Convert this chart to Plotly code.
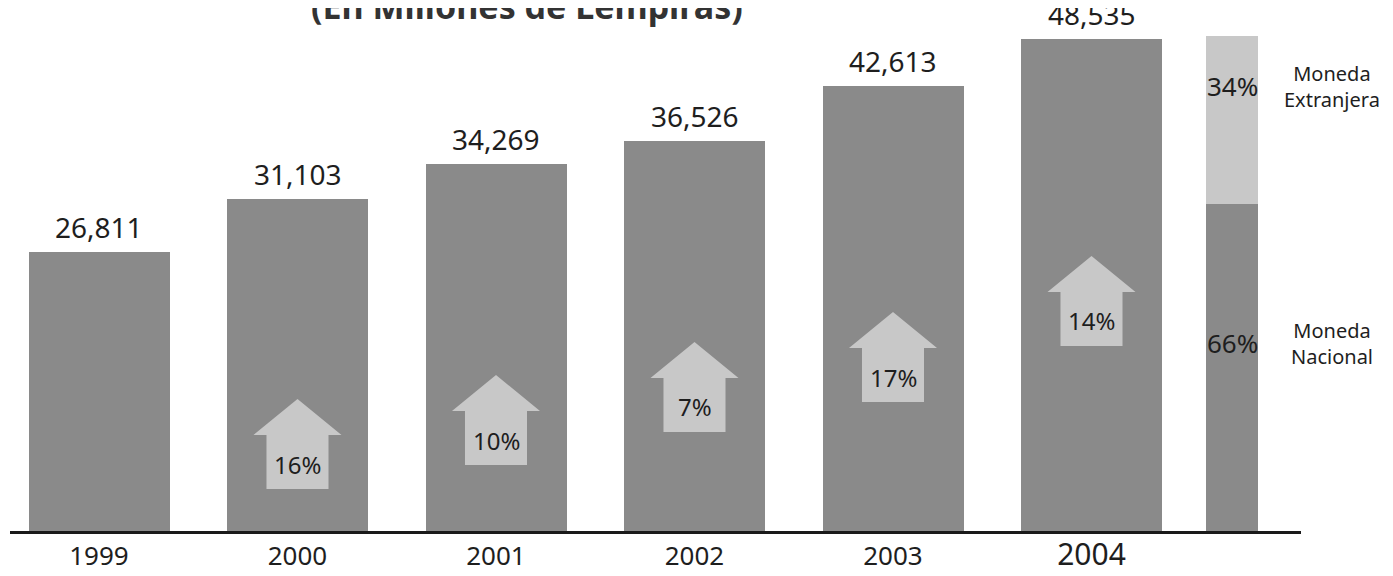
import numpy as np
import plotly.graph_objects as go

# ---------------- data ----------------
years = ["1999", "2000", "2001", "2002", "2003", "2004"]
saldo = [26811, 31103, 34269, 36526, 42613, 48535]
growth_pct = [None, 16, 10, 7, 17, 14]
comp_labels = ["Moneda<br>Nacional", "Moneda<br>Extranjera"]
comp_pct = [66, 34]
title_text = "(En Millones de Lempiras)"

# ---------------- layout constants (screen pixels; page body has an 8px margin) ----------------
OFF = 8
W, H = 1393 - OFF, 576 - OFF
PL, PR, PT, PB = 10, 1301, 36, 531          # plot area on screen
ML, MR, MT = PL - OFF, W - (PR - OFF), PT - OFF
MB = H - (PB - OFF)
PW, PH = PR - PL, PB - PT
FONT = "Noto Sans"
DARK = "#8a8a8a"
LIGHT = "#c8c8c8"
TXT = "#1e1e1e"
arrow_tip_px = [None, 399, 375, 342, 312, 256]  # arrow placement (screen px)
ARROW_H, HEAD_H, HEAD_HW, SHAFT_HW = 90, 36, 44, 31
SLOT = 198.5
X0 = -(99 - PL) / SLOT
X1 = X0 + PW / SLOT


def py2paper(py):
    return (PB - py) / PH


def px2paper(px):
    return (px - PL) / PW


xs = list(range(len(years)))
fig = go.Figure()
fig.add_trace(go.Bar(x=xs, y=saldo, width=141 / SLOT, marker_color=DARK,
                     marker_line_width=0, hoverinfo="x+y", showlegend=False))

comp_colors = [DARK, LIGHT]
for lab, v, c in zip(comp_labels, comp_pct, comp_colors):
    fig.add_trace(go.Bar(x=[0], y=[v], width=1, marker_color=c, marker_line_width=0,
                         xaxis="x2", yaxis="y2", showlegend=False, name=lab.replace("<br>", " ")))

annotations = []
for i, v in enumerate(saldo):
    annotations.append(dict(x=i, y=np.log10(v), xref="x", yref="y", text=f"{v:,}",
                            showarrow=False, xanchor="center", yanchor="bottom", yshift=4,
                            font=dict(family=FONT, size=28, color=TXT)))

shapes = []
for i, g in enumerate(growth_pct):
    if g is None:
        continue
    tip = arrow_tip_px[i]
    hb = tip + HEAD_H
    bot = tip + ARROW_H
    hw = HEAD_HW / SLOT
    sw = SHAFT_HW / SLOT
    pts = [(i, tip), (i + hw, hb), (i + sw, hb), (i + sw, bot), (i - sw, bot), (i - sw, hb), (i - hw, hb)]
    path = "M " + " L ".join(f"{x:.4f},{py2paper(y):.4f}" for x, y in pts) + " Z"
    shapes.append(dict(type="path", path=path, xref="x", yref="paper",
                       fillcolor=LIGHT, line=dict(width=0), layer="above"))
    annotations.append(dict(x=i, y=py2paper(tip + 65), xref="x", yref="paper", text=f"{g}%",
                            showarrow=False, xanchor="center", yanchor="middle",
                            font=dict(family=FONT, size=24, color=TXT)))

comp_text_px = [343, 86]
for lab, v, py in zip(comp_labels, comp_pct, comp_text_px):
    annotations.append(dict(x=0, y=py2paper(py), xref="x2", yref="paper", text=f"{v}%",
                            showarrow=False, xanchor="center", yanchor="middle",
                            font=dict(family=FONT, size=26, color=TXT)))
    annotations.append(dict(x=px2paper(1332), y=py2paper(py), xref="paper", yref="paper",
                            text=lab, showarrow=False, align="center",
                            xanchor="center", yanchor="middle",
                            font=dict(family=FONT, size=20, color=TXT)))

annotations.append(dict(x=px2paper(527), y=py2paper(31), xref="paper", yref="paper",
                        text=f"<b>{title_text}</b>", showarrow=False,
                        xanchor="center", yanchor="bottom",
                        font=dict(family=FONT, size=34, color="#333333")))

ticktext = [y if y != "2004" else "<span style='font-size:30px'>2004</span>" for y in years]

fig.update_layout(
    width=W, height=H,
    margin=dict(l=ML, r=MR, t=MT, b=MB, pad=0, autoexpand=False),
    paper_bgcolor="white", plot_bgcolor="white",
    barmode="stack",
    xaxis=dict(range=[X0, X1], tickmode="array", tickvals=xs, ticktext=ticktext,
               showgrid=False, zeroline=False, showline=True, linecolor="#1a1a1a", linewidth=3,
               ticks="", automargin=False, tickfont=dict(family=FONT, size=26, color=TXT)),
    yaxis=dict(type="log", range=[4.0907, 4.6896], visible=False, showgrid=False, automargin=False),
    xaxis2=dict(domain=[px2paper(1206), px2paper(1258)], range=[-0.5, 0.5],
                anchor="y2", visible=False, automargin=False),
    yaxis2=dict(range=[0, 100], overlaying="y", visible=False, automargin=False),
    shapes=shapes,
    annotations=annotations,
)

fig.write_html("out.html")
